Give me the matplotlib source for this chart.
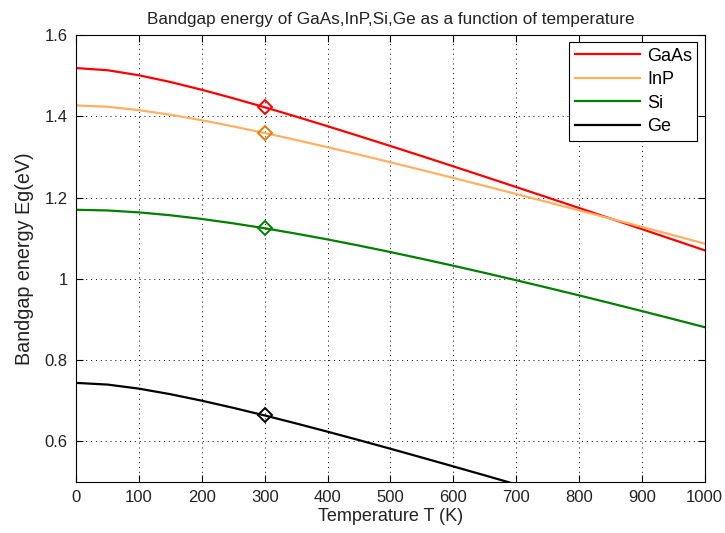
import numpy as np
import matplotlib
matplotlib.use('Agg')
import matplotlib.pyplot as plt

plt.rcParams['font.family'] = ['Liberation Sans', 'DejaVu Sans']

T = [0, 50, 100, 150, 200, 250, 300, 350, 400, 450, 500,
     550, 600, 650, 700, 750, 800, 850, 900, 950, 1000]

eg_gaas = [1.5190, 1.5137, 1.5012, 1.4847, 1.4655, 1.4446, 1.4225, 1.3995, 1.3758, 1.3516, 1.3271,
           1.3022, 1.2770, 1.2516, 1.2260, 1.2003, 1.1745, 1.1485, 1.1224, 1.0963, 1.0701]
eg_inp = [1.4270, 1.4237, 1.4154, 1.4040, 1.3905, 1.3753, 1.3591, 1.3419, 1.3241, 1.3058, 1.2870,
          1.2679, 1.2484, 1.2288, 1.2089, 1.1888, 1.1686, 1.1483, 1.1278, 1.1073, 1.0866]
eg_si = [1.1700, 1.1683, 1.1636, 1.1565, 1.1474, 1.1366, 1.1245, 1.1112, 1.0970, 1.0818, 1.0659,
         1.0493, 1.0322, 1.0146, 0.9965, 0.9780, 0.9592, 0.9400, 0.9206, 0.9008, 0.8809]
eg_ge = [0.7437, 0.7395, 0.7295, 0.7158, 0.6998, 0.6822, 0.6635, 0.6438, 0.6235, 0.6027, 0.5815,
         0.5599, 0.5380, 0.5160, 0.4937, 0.4713, 0.4487]

T_room = 300
room_vals = [1.4225, 1.3591, 1.1245, 0.6635]

names = ['GaAs', 'InP', 'Si', 'Ge']
line_colors = ['#ff0000', '#ffb060', '#008000', '#000000']
marker_colors = ['#ff0000', '#e07e10', '#008000', '#000000']

fig = plt.figure(figsize=(7.25, 5.33), dpi=100)
ax = fig.add_axes([0.105, 0.096, 0.867, 0.838])

series = [eg_gaas, eg_inp, eg_si, eg_ge]
for name, vals, lc in zip(names, series, line_colors):
    ax.plot(T[:len(vals)], vals, color=lc, lw=1.6, label=name)
for v, mc in zip(room_vals, marker_colors):
    ax.plot(T_room, v, marker='D', ms=7, mfc='none', mec=mc, mew=1.4)

ax.set_xlim(0, 1000)
ax.set_ylim(0.5, 1.6)
ax.set_xticks(np.arange(0, 1001, 100))
ax.set_yticks([0.6, 0.8, 1.0, 1.2, 1.4, 1.6])
ax.set_yticklabels(['0.6', '0.8', '1', '1.2', '1.4', '1.6'])
ax.grid(True, color='black', linestyle=(0, (1, 4)), linewidth=0.7)
ax.tick_params(direction='in', top=True, right=True, labelsize=12, length=5, pad=6,
               labelcolor='#222222')
for s in ax.spines.values():
    s.set_linewidth(0.8)

ax.set_title('Bandgap energy of GaAs,InP,Si,Ge as a function of temperature',
             fontsize=12.3, pad=8, color='#222222')
ax.set_xlabel('Temperature T (K)', fontsize=13, labelpad=2, color='#222222')
ax.set_ylabel('Bandgap energy Eg(eV)', fontsize=14.2, labelpad=8, color='#222222')

leg = ax.legend(loc='upper right', fontsize=13, fancybox=False, framealpha=1,
                edgecolor='black', handlelength=3.6, handletextpad=0.4,
                labelspacing=0.36, borderpad=0.3, borderaxespad=0.4)
leg.get_frame().set_linewidth(0.8)

fig.savefig('out.png', dpi=100)
